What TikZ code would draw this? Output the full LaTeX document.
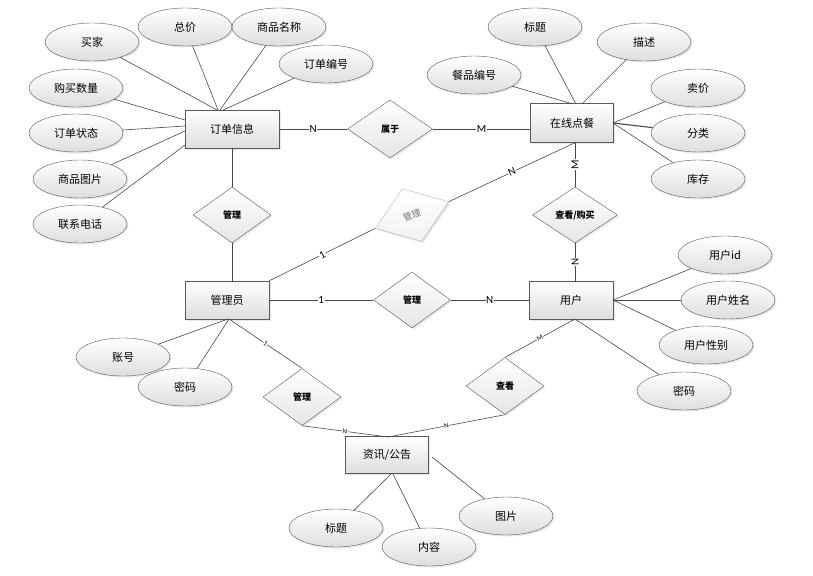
\documentclass[tikz,border=0pt]{standalone}
\usepackage{fontspec}
\setmainfont{Noto Sans CJK SC}
\newfontfamily\labfont{Carlito}
\usetikzlibrary{shapes.geometric,shadows}
\begin{document}
\begin{tikzpicture}[x=1pt,y=-1pt,
  every node/.style={inner sep=0pt},
  shd/.style={drop shadow={opacity=0.18,shadow xshift=1.5pt,shadow yshift=-1.5pt}},
  ent/.style={draw=black!65,rectangle,top color=white,bottom color=black!13,
    minimum width=84pt,minimum height=38pt,font=\fontsize{11}{13}\selectfont,shd},
  attr/.style={draw=black!65,ellipse,top color=white,bottom color=black!13,
    minimum width=94pt,minimum height=38pt,font=\fontsize{11}{13}\selectfont,shd},
  rel/.style={draw=black!65,diamond,top color=white,bottom color=black!10,
    minimum width=78pt,minimum height=56pt,font=\fontsize{9}{10}\selectfont\bfseries,shd},
  conn/.style={draw=black!72,line width=0.6pt},
  lab/.style={fill=white,inner sep=0.6pt,font=\labfont\fontsize{11}{12}\selectfont},
  slab/.style={fill=white,inner sep=0.4pt,font=\labfont\fontsize{7}{8}\selectfont,sloped}
]
\useasboundingbox (0,0) rectangle (813,575);

% entities
\node[ent,minimum width=94pt] (order) at (232,129) {订单信息};
\node[ent,minimum width=83pt,minimum height=39pt] (meal) at (572,123) {在线点餐};
\node[ent] (admin) at (227,300) {管理员};
\node[ent] (user) at (571,300) {用户};
\node[ent,minimum width=83pt,minimum height=37pt] (news) at (387,455) {资讯/公告};

% relationships
\node[rel,minimum width=85pt,minimum height=58pt] (belong) at (390,129) {属于};
\node[rel] (m1) at (232,215) {管理};
\node[rel,rotate=20,draw=black!28,bottom color=black!5,text=black!55,
  font=\fontsize{9}{10}\selectfont,drop shadow={opacity=0.08,shadow xshift=1.5pt,shadow yshift=-1.5pt}] (m2) at (412,215) {管理};
\node[rel,minimum width=85pt] (buy) at (575,215) {查看/购买};
\node[rel,minimum width=77pt] (m3) at (412,300) {管理};
\node[rel,minimum height=57pt] (m4) at (302,397) {管理};
\node[rel,minimum height=57pt] (view) at (505,386) {查看};

% attributes
\node[attr] (buyer) at (92,42) {买家};
\node[attr] (total) at (185,27) {总价};
\node[attr] (pname) at (279,27) {商品名称};
\node[attr] (ono) at (326,64) {订单编号};
\node[attr] (qty) at (76,88) {购买数量};
\node[attr] (ostate) at (76,133) {订单状态};
\node[attr] (pimg) at (80,179) {商品图片};
\node[attr] (phone) at (80,224) {联系电话};
\node[attr] (t1) at (535,27) {标题};
\node[attr] (desc) at (644,42) {描述};
\node[attr] (mno) at (474,75) {餐品编号};
\node[attr] (price) at (698,88) {卖价};
\node[attr] (cat) at (698,133) {分类};
\node[attr] (stock) at (698,179) {库存};
\node[attr] (uid) at (725,255) {用户id};
\node[attr] (uname) at (728,300) {用户姓名};
\node[attr] (usex) at (706,345) {用户性别};
\node[attr] (upw) at (684,391) {密码};
\node[attr] (acc) at (123,357) {账号};
\node[attr] (apw) at (185,387) {密码};
\node[attr] (t2) at (336,528) {标题};
\node[attr] (content) at (429,547) {内容};
\node[attr] (pic) at (506,516) {图片};

% attachment points
\coordinate (o1) at (217,110);
\coordinate (o2) at (218,110);
\coordinate (o3) at (220,110);
\coordinate (o4) at (223,110);
\coordinate (o5) at (185,120);
\coordinate (o6) at (185,126);
\coordinate (o7) at (185,131);
\coordinate (o8) at (185,145);
\coordinate (e1) at (573,104);
\coordinate (e2) at (576,104);
\coordinate (e3) at (582,104);
\coordinate (e4) at (613,123);
\coordinate (u1) at (613,300);
\coordinate (u2) at (575,319);
\coordinate (a1) at (228,319);
\coordinate (a2) at (229,319);
\coordinate (n1) at (391,474);
\coordinate (n2) at (393,474);
\coordinate (n3) at (432,457);
\coordinate (nt) at (388,437);

% attribute connectors
\draw[conn] (buyer) -- (o1);
\draw[conn] (total) -- (o2);
\draw[conn] (pname) -- (o3);
\draw[conn] (ono) -- (o4);
\draw[conn] (qty) -- (o5);
\draw[conn] (ostate) -- (o6);
\draw[conn] (pimg) -- (o7);
\draw[conn] (phone) -- (o8);
\draw[conn] (mno) -- (e1);
\draw[conn] (t1) -- (e2);
\draw[conn] (desc) -- (e3);
\draw[conn] (price) -- (e4);
\draw[conn,line width=1.1pt] (cat) -- (e4);
\draw[conn] (stock) -- (e4);
\draw[conn] (uid) -- (u1);
\draw[conn] (uname) -- (u1);
\draw[conn] (usex) -- (u1);
\draw[conn] (upw) -- (u2);
\draw[conn] (acc) -- (a1);
\draw[conn] (apw) -- (a2);
\draw[conn] (t2) -- (n1);
\draw[conn] (content) -- (n2);
\draw[conn] (pic) -- (n3);

% relationship connectors
\draw[conn] (order.east) -- node[lab] {N} (belong.west);
\draw[conn] (belong.east) -- node[lab] {M} (belong.east -| meal.west);
\draw[conn] (order.south) -- (m1.north);
\draw[conn] (m1.south) -- (m1.south |- admin.north);
\draw[conn] (admin.north east) -- node[lab,sloped] {1} (m2.west);
\draw[conn] (m2.east) -- node[lab,sloped] {N} (buy.north |- meal.south);
\draw[conn] (buy.north) -- node[lab,rotate=90] {M} (buy.north |- meal.south);
\draw[conn] (buy.south) -- node[lab,rotate=90] {N} (buy.south |- user.north);
\draw[conn] (admin.east) -- node[lab] {1} (m3.west);
\draw[conn] (m3.east) -- node[lab] {N} (user.west);
\draw[conn] (a2) -- node[slab] {1} (m4.north);
\draw[conn] (m4.south) -- node[slab] {N} (nt);
\draw[conn] (u2) -- node[slab] {M} (view.north);
\draw[conn] (view.south) -- node[slab] {N} (nt);
\end{tikzpicture}
\end{document}
